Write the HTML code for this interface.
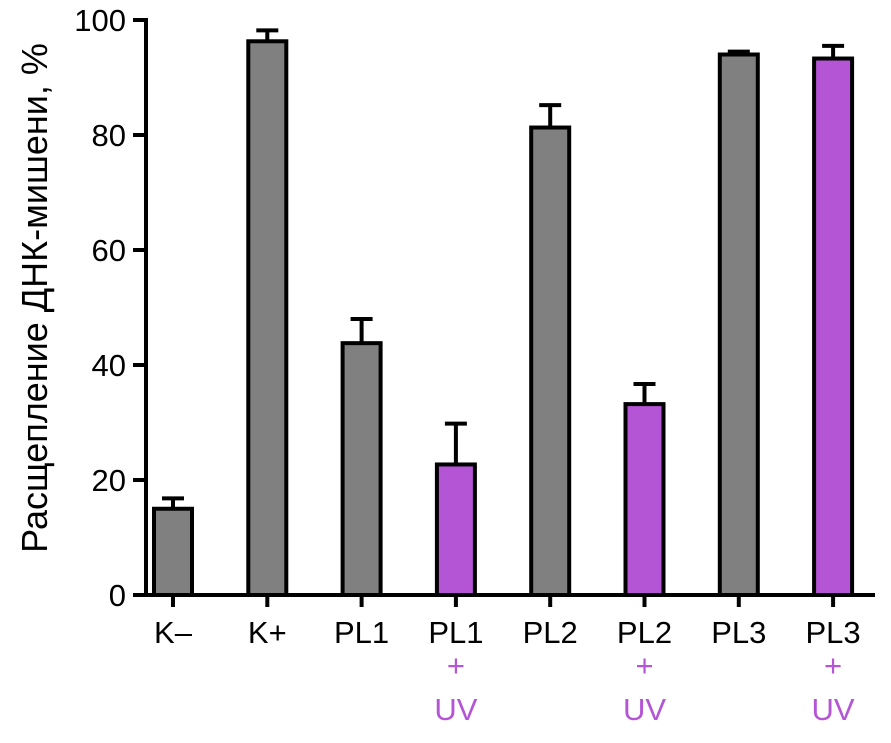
<!DOCTYPE html>
<html><head><meta charset="utf-8"><style>
body{margin:0;background:#fff;}
svg text{font-family:"Liberation Sans",sans-serif;}
</style></head><body>
<svg width="891" height="738" id="chart">
</svg>
<script>
const categories=["K–","K+","PL1","PL1","PL2","PL2","PL3","PL3"];
const uvFlags=[false,false,false,true,false,true,false,true];
const values=[15,96.3,43.8,22.7,81.3,33.2,94,93.3];
const errors=[1.8,1.9,4.2,7.1,3.9,3.5,0.5,2.2];
const yTicks=[0,20,40,60,80,100];
const svg=document.getElementById('chart');
const NS='http://www.w3.org/2000/svg';
const y0=595,yTop=20,xAxis=146,firstC=173,step=94.3,bw=38;
function y(v){return y0-(v/100)*(y0-yTop);}
function x(i){return firstC+i*step;}
function mk(t,a){const e=document.createElementNS(NS,t);for(const k in a)e.setAttribute(k,a[k]);svg.appendChild(e);return e;}
let e;
e=mk('line',{x1:xAxis,y1:yTop-2,x2:xAxis,y2:y0+2,stroke:'#000','stroke-width':4});


e=mk('line',{x1:133,y1:y0,x2:875,y2:y0,stroke:'#000','stroke-width':4});


yTicks.forEach(t=>{
 e=mk('line',{x1:133,y1:y(t),x2:xAxis,y2:y(t),stroke:'#000','stroke-width':4});
 
 
 e=mk('text',{x:126,y:y(t)+11,'text-anchor':'end','font-size':31,fill:'#000'});
 e.textContent=t;
 
 
});
e=mk('text',{x:0,y:0,'text-anchor':'middle','font-size':36,fill:'#000',transform:'translate(47,298) rotate(-90)'});
e.textContent='Расщепление ДНК-мишени, %';


values.forEach((v,i)=>{
 const cx=x(i),top=y(v+errors[i]);
 e=mk('line',{x1:cx,y1:y(v),x2:cx,y2:top,stroke:'#000','stroke-width':4});
 
 
 e=mk('line',{x1:cx-11,y1:top,x2:cx+11,y2:top,stroke:'#000','stroke-width':4});
 
 
 e=mk('rect',{x:cx-bw/2,y:y(v),width:bw,height:y0-y(v),fill:uvFlags[i]?'#b455d6':'#808080',stroke:'#000','stroke-width':4});
 
 
 e=mk('line',{x1:cx,y1:y0,x2:cx,y2:y0+12,stroke:'#000','stroke-width':4});
 
 
 e=mk('text',{x:cx,y:643,'text-anchor':'middle','font-size':31,fill:'#000'});
 e.textContent=categories[i];
 
 
 if(uvFlags[i]){
  e=mk('text',{x:cx,y:676,'text-anchor':'middle','font-size':31,fill:'#b455d6'});
  e.textContent='+';
  
  
  e=mk('text',{x:cx,y:720,'text-anchor':'middle','font-size':31,fill:'#b455d6'});
  e.textContent='UV';
  
  
 }
});
</script>
</body></html>
